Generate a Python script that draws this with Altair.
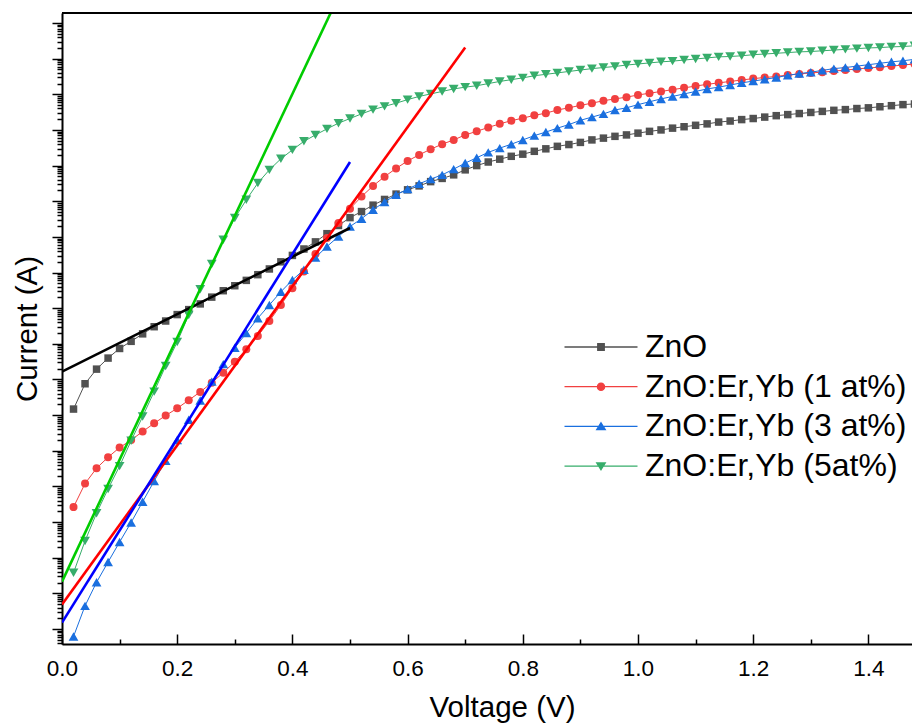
import altair as alt
import pandas as pd

FONT = "Liberation Sans"

# x grid of the measurement (V), one point every 0.02 V
voltage = [round(0.02 * i, 2) for i in range(1, 75)]

# log10 of the current (A)
log_i_zno = [-11.83, -11.12, -10.71, -10.40, -10.13, -9.93, -9.72, -9.52, -9.36, -9.18,
             -9.04, -8.88, -8.69, -8.51, -8.37, -8.22, -8.06, -7.90, -7.70, -7.52,
             -7.34, -7.14, -6.91, -6.68, -6.46, -6.29, -6.11, -5.95, -5.80, -5.68,
             -5.57, -5.45, -5.36, -5.26, -5.12, -5.00, -4.90, -4.82, -4.74, -4.68,
             -4.60, -4.53, -4.46, -4.41, -4.35, -4.28, -4.23, -4.18, -4.14, -4.09,
             -4.04, -4.00, -3.95, -3.91, -3.87, -3.83, -3.78, -3.75, -3.71, -3.68,
             -3.64, -3.60, -3.57, -3.54, -3.51, -3.48, -3.45, -3.43, -3.40, -3.38,
             -3.35, -3.32, -3.29, -3.27]
log_i_1at = [-14.58, -13.92, -13.49, -13.18, -12.91, -12.70, -12.46, -12.23, -12.01, -11.81,
             -11.58, -11.35, -11.09, -10.81, -10.50, -10.15, -9.78, -9.36, -8.91, -8.44,
             -7.97, -7.48, -7.03, -6.61, -6.21, -5.87, -5.57, -5.31, -5.08, -4.87,
             -4.70, -4.54, -4.40, -4.28, -4.14, -4.04, -3.93, -3.83, -3.74, -3.67,
             -3.59, -3.53, -3.44, -3.38, -3.31, -3.25, -3.18, -3.13, -3.08, -3.02,
             -2.97, -2.92, -2.87, -2.82, -2.77, -2.72, -2.68, -2.64, -2.60, -2.56,
             -2.53, -2.50, -2.46, -2.43, -2.40, -2.38, -2.35, -2.32, -2.29, -2.26,
             -2.24, -2.21, -2.18, -2.15]
log_i_3at = [-18.21, -17.35, -16.69, -16.12, -15.56, -15.01, -14.43, -13.85, -13.28, -12.70,
             -12.13, -11.59, -11.06, -10.57, -10.11, -9.70, -9.28, -8.91, -8.54, -8.21,
             -7.92, -7.58, -7.27, -6.99, -6.71, -6.49, -6.24, -6.02, -5.82, -5.66,
             -5.51, -5.38, -5.26, -5.10, -4.93, -4.78, -4.63, -4.51, -4.40, -4.28,
             -4.16, -4.06, -3.95, -3.85, -3.73, -3.64, -3.55, -3.44, -3.38, -3.29,
             -3.21, -3.13, -3.06, -2.99, -2.92, -2.85, -2.80, -2.74, -2.68, -2.63,
             -2.58, -2.53, -2.47, -2.42, -2.38, -2.33, -2.28, -2.25, -2.21, -2.17,
             -2.13, -2.09, -2.06, -2.02]
log_i_5at = [-16.42, -15.53, -14.75, -14.07, -13.43, -12.72, -12.04, -11.34, -10.62, -9.95,
             -9.19, -8.47, -7.76, -7.08, -6.47, -5.96, -5.49, -5.12, -4.81, -4.56,
             -4.32, -4.14, -3.97, -3.81, -3.68, -3.55, -3.43, -3.34, -3.25, -3.15,
             -3.06, -2.99, -2.92, -2.85, -2.80, -2.76, -2.70, -2.64, -2.59, -2.54,
             -2.48, -2.44, -2.40, -2.36, -2.32, -2.28, -2.25, -2.22, -2.18, -2.15,
             -2.12, -2.09, -2.07, -2.04, -2.01, -1.98, -1.95, -1.94, -1.92, -1.89,
             -1.87, -1.85, -1.83, -1.81, -1.80, -1.78, -1.76, -1.74, -1.72, -1.70,
             -1.69, -1.67, -1.66, -1.64]

series_names = ["ZnO", "ZnO:Er,Yb (1 at%)", "ZnO:Er,Yb (3 at%)", "ZnO:Er,Yb (5at%)"]
series_logs = [log_i_zno, log_i_1at, log_i_3at, log_i_5at]
series_colors = ["#515151", "#F14040", "#1A6FDF", "#37AD6B"]
series_shapes = ["square", "circle", "triangle-up", "triangle-down"]
series_sizes = [56, 64, 95, 95]

# legend symbols: connecting line with the marker in its middle
legend_paths = [
    "M-7.3,0H7.3M-0.65,-0.65H0.65V0.65H-0.65Z",
    "M-7.3,0H7.3M0.72,0A0.72,0.72,0,1,1,-0.72,0A0.72,0.72,0,1,1,0.72,0Z",
    "M-7.3,0H7.3M0,-0.72L0.85,0.62L-0.85,0.62Z",
    "M-7.3,0H7.3M0,0.72L0.85,-0.62L-0.85,-0.62Z",
]

# linear fits (straight on the log axis): end points
fit_names = ["fit ZnO", "fit 1 at%", "fit 3 at%", "fit 5 at%"]
fit_colors = ["#000000", "#FF0000", "#0000FF", "#00CC00"]
fit_v = [[0.0, 0.5], [0.0, 0.7], [0.0, 0.5], [0.0, 0.5]]
fit_log_i = [[-10.78, -6.75], [-17.31, -1.69], [-17.82, -4.90], [-16.67, 0.43]]

x_major = [0.0, 0.2, 0.4, 0.6, 0.8, 1.0, 1.2, 1.4]
x_all_ticks = [0.0, 0.1, 0.2, 0.3, 0.4, 0.5, 0.6, 0.7, 0.8, 0.9, 1.0, 1.1, 1.2, 1.3, 1.4]

PLOT_W = 850
PLOT_H = 631
X_MAX = 1.4757
Y_MIN = 10 ** -18.42
Y_MAX = 10 ** -0.72
y_ticks = [m * 10.0 ** k for k in range(-19, 0) for m in range(1, 10)]
y_ticks = [t for t in y_ticks if Y_MIN <= t <= Y_MAX]

rows = []
for name, logs in zip(series_names, series_logs):
    for v, lg in zip(voltage, logs):
        rows.append({"V": v, "I": 10 ** lg, "series": name})
df = pd.DataFrame(rows)

fit_rows = []
for name, vs, lgs in zip(fit_names, fit_v, fit_log_i):
    for v, lg in zip(vs, lgs):
        fit_rows.append({"V": v, "I": 10 ** lg, "fit": name})
fit_df = pd.DataFrame(fit_rows)

x_scale = alt.Scale(domain=[0, X_MAX], nice=False, zero=False)
y_scale = alt.Scale(type="log", domain=[Y_MIN, Y_MAX], nice=False)

x_axis = alt.Axis(
    orient="bottom", values=x_major, format=".1f", ticks=False,
    labelFont=FONT, labelFontSize=22.5, labelColor="black", labelPadding=13,
    labelFlush=False, labelOverlap=False,
    domain=True, domainColor="black", domainWidth=2, grid=False,
    title="Voltage (V)", titleFont=FONT, titleFontSize=29.5, titleFontWeight="normal",
    titleColor="black", titlePadding=14, titleX=440,
)
y_axis = alt.Axis(
    orient="left", values=y_ticks, labels=False, grid=False,
    domain=True, domainColor="black", domainWidth=2,
    ticks=True, tickColor="black", tickWidth=1.5,
    tickSize={"condition": {"test": "abs(log(datum.value)/LN10 - round(log(datum.value)/LN10)) < 0.01", "value": 10}, "value": 5},
    title="Current (A)", titleFont=FONT, titleFontSize=29.5, titleFontWeight="normal",
    titleColor="black", titlePadding=9,
)
x_tick_axis = alt.Axis(
    orient="top", offset=-PLOT_H, values=x_all_ticks, labels=False, domain=False, grid=False,
    ticks=True, tickColor="black", tickWidth=1.5,
    tickSize={"condition": {"test": "abs(datum.value*5 - round(datum.value*5)) < 0.001", "value": 10}, "value": 5},
    title=None,
)

X = alt.X("V:Q", scale=x_scale, axis=x_axis)
Y = alt.Y("I:Q", scale=y_scale, axis=y_axis)

layers = []
for name, col, shp, sz in zip(series_names, series_colors, series_shapes, series_sizes):
    base = alt.Chart(df).transform_filter(alt.datum.series == name)
    layers.append(base.mark_line(color=col, strokeWidth=1).encode(x=X, y=Y))
    layers.append(base.mark_point(shape=shp, size=sz, filled=True, color=col, opacity=1).encode(x=X, y=Y))

layers.append(
    alt.Chart(fit_df).mark_line(strokeWidth=2.6, clip=True).encode(
        x=X, y=Y,
        color=alt.Color("fit:N", scale=alt.Scale(domain=fit_names, range=fit_colors), legend=None),
        detail="fit:N",
    )
)

leg = alt.Legend(
    title=None, orient="none", legendX=523, legendY=318, padding=0,
    labelFont=FONT, labelFontSize=32, labelColor="black", labelLimit=0,
    symbolSize=100, symbolStrokeWidth=1.3, labelOffset=28, rowPadding=7.7,
)
legend_layer = alt.Chart(df).transform_filter("false").mark_point(filled=True, opacity=1).encode(
    fill=alt.Fill("series:N", scale=alt.Scale(domain=series_names, range=series_colors), legend=leg),
    stroke=alt.Stroke("series:N", scale=alt.Scale(domain=series_names, range=series_colors), legend=leg),
    shape=alt.Shape("series:N", scale=alt.Scale(domain=series_names, range=legend_paths), legend=leg),
)
layers.append(legend_layer)

frame_top = alt.Chart(pd.DataFrame({"k": [0]})).mark_rule(color="black", strokeWidth=2).encode(y=alt.value(0))
layers.append(frame_top)

main = alt.layer(*layers)

tick_layer = alt.Chart(pd.DataFrame({"V": x_all_ticks})).mark_point(opacity=0).encode(
    x=alt.X("V:Q", scale=x_scale, axis=x_tick_axis), y=alt.value(0)
)

chart = alt.layer(main, tick_layer).resolve_axis(x="independent").properties(
    width=PLOT_W, height=PLOT_H,
    padding={"left": 54, "top": 5, "right": 0, "bottom": 84},
    autosize=alt.AutoSizeParams(type="none"),
).configure_view(strokeWidth=0)

chart.save("out.html", embed_options={"renderer": "svg", "actions": False})
